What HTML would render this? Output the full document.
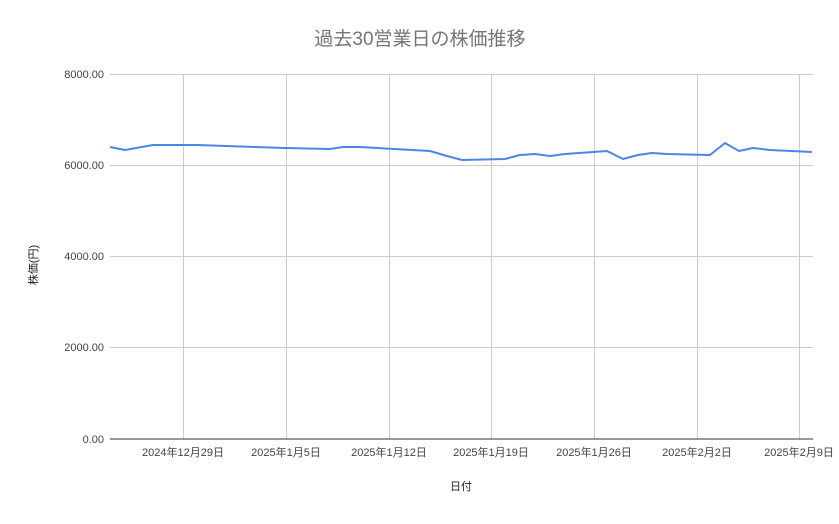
<!DOCTYPE html>
<html><head><meta charset="utf-8"><style>
html,body{margin:0;padding:0;background:#fff;}
svg text{font-family:"Liberation Sans","Noto Sans CJK JP",sans-serif;}
</style></head><body>
<svg width="839" height="519" viewBox="0 0 839 519" xmlns="http://www.w3.org/2000/svg">
<rect width="839" height="519" fill="#fff"/>
<text x="420" y="45" text-anchor="middle" font-size="19" fill="#757575">過去30営業日の株価推移</text>
<g stroke="#cccccc" stroke-width="1">
<line x1="110" y1="74.5" x2="813" y2="74.5"/>
<line x1="110" y1="165.5" x2="813" y2="165.5"/>
<line x1="110" y1="256.5" x2="813" y2="256.5"/>
<line x1="110" y1="347.5" x2="813" y2="347.5"/>
<line x1="183.5" y1="74" x2="183.5" y2="439"/>
<line x1="286.5" y1="74" x2="286.5" y2="439"/>
<line x1="389.5" y1="74" x2="389.5" y2="439"/>
<line x1="491.5" y1="74" x2="491.5" y2="439"/>
<line x1="594.5" y1="74" x2="594.5" y2="439"/>
<line x1="697.5" y1="74" x2="697.5" y2="439"/>
<line x1="799.5" y1="74" x2="799.5" y2="439"/>
</g>
<line x1="110" y1="439" x2="813" y2="439" stroke="#333" stroke-width="1"/>
<g font-size="11" fill="#444" text-anchor="end">
<text x="104" y="78">8000.00</text>
<text x="104" y="169">6000.00</text>
<text x="104" y="260">4000.00</text>
<text x="104" y="351">2000.00</text>
<text x="104" y="443">0.00</text>
</g>
<g font-size="11" fill="#444" text-anchor="middle">
<text x="183" y="456">2024年12月29日</text>
<text x="286" y="456">2025年1月5日</text>
<text x="389" y="456">2025年1月12日</text>
<text x="491" y="456">2025年1月19日</text>
<text x="594" y="456">2025年1月26日</text>
<text x="697" y="456">2025年2月2日</text>
<text x="799" y="456">2025年2月9日</text>
</g>
<text x="461" y="490" font-size="11" fill="#222" text-anchor="middle">日付</text>
<text transform="translate(37,265) rotate(-90)" font-size="11" fill="#222" text-anchor="middle">株価(円)</text>
<polyline fill="none" stroke="#4a86e8" stroke-width="2" stroke-linejoin="round"
points="110,147 125,150 153,145 197,145 285,148 330,149 343,147 360,147 430,151 447,156 462,160 505,159 520,155 535,154 550,156 565,154 607,151 623,159 638,155 652,153 667,154 710,155 725,143 739,151 753,148 770,150 812,152"/>
</svg>
</body></html>
